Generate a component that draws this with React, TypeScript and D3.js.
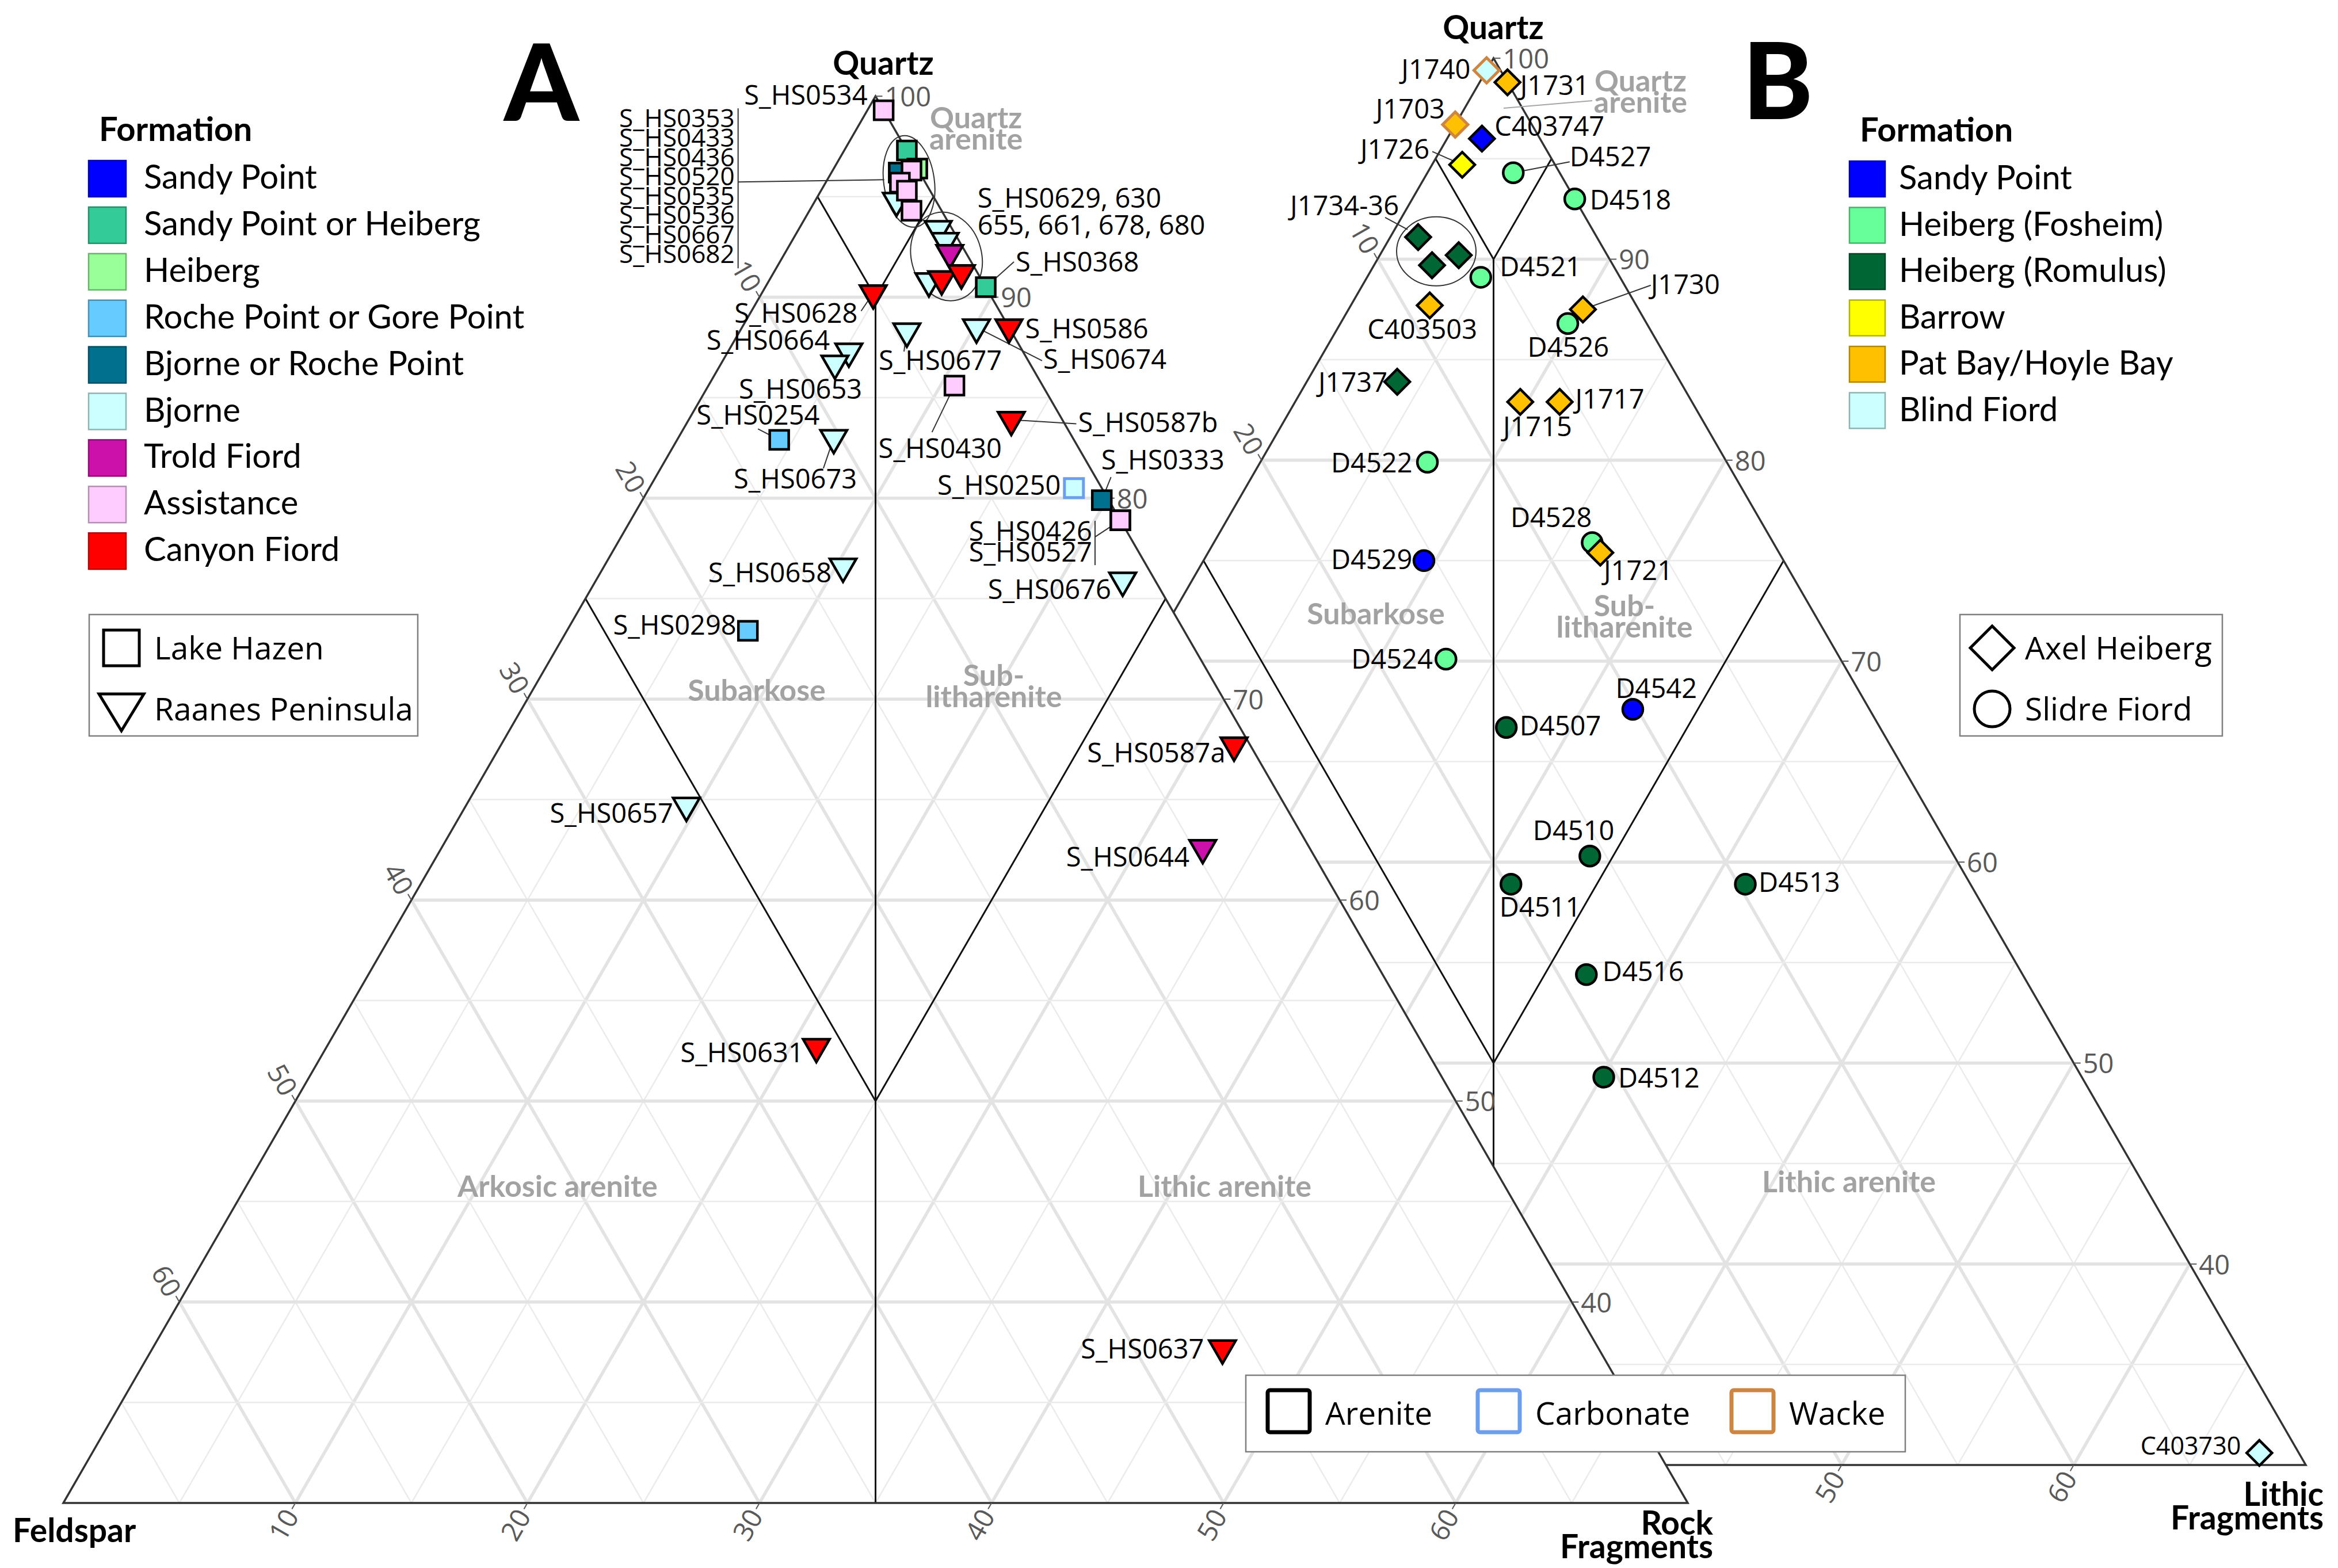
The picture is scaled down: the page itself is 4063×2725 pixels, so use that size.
import React from 'react';
import * as d3 from 'd3';

const W = 4063;
const H = 2725;
const SQ3 = Math.sqrt(3) / 2;

// axis ticks
const gridSteps = d3.range(5, 70, 5);
const quartzTicks = [100, 90, 80, 70, 60, 50, 40];
const sideTicks = [10, 20, 30, 40, 50, 60];

// Folk-style field boundaries as [Q, F, RF] end points
const boundaries: number[][][] = [
  [[95, 5, 0], [90, 5, 5]],
  [[95, 0, 5], [90, 5, 5]],
  [[90, 5, 5], [30, 35, 35]],
  [[75, 25, 0], [50, 25, 25]],
  [[75, 0, 25], [50, 25, 25]],
];

const formationsA = [
  'Sandy Point', 'Sandy Point or Heiberg', 'Heiberg', 'Roche Point or Gore Point',
  'Bjorne or Roche Point', 'Bjorne', 'Trold Fiord', 'Assistance', 'Canyon Fiord',
];
const formationsB = [
  'Sandy Point', 'Heiberg (Fosheim)', 'Heiberg (Romulus)', 'Barrow', 'Pat Bay/Hoyle Bay', 'Blind Fiord',
];
const lithologies = ['Arenite', 'Carbonate', 'Wacke'];
const localitiesA = ['Lake Hazen', 'Raanes Peninsula'];
const localitiesB = ['Axel Heiberg', 'Slidre Fiord'];

// [sample, Q, F, RF, formation, locality, lithology]
const samplesA: [string, number, number, number, string, string, string][] = [
  ['S_HS0534', 99.3, 0, 0.7, 'Assistance', 'Lake Hazen', 'Arenite'],
  ['S_HS0667', 94.8, 1.7, 3.5, 'Bjorne', 'Raanes Peninsula', 'Arenite'],
  ['S_HS0353', 97.3, 0, 2.7, 'Sandy Point or Heiberg', 'Lake Hazen', 'Arenite'],
  ['S_HS0433', 96.4, 0, 3.6, 'Heiberg', 'Lake Hazen', 'Arenite'],
  ['S_HS0520', 96.2, 0.9, 2.9, 'Bjorne or Roche Point', 'Lake Hazen', 'Arenite'],
  ['S_HS0436', 96.3, 0.3, 3.4, 'Assistance', 'Lake Hazen', 'Arenite'],
  ['S_HS0535', 95.7, 1.1, 3.2, 'Assistance', 'Lake Hazen', 'Arenite'],
  ['S_HS0536', 95.3, 1.0, 3.7, 'Assistance', 'Lake Hazen', 'Arenite'],
  ['S_HS0682', 94.3, 1.3, 4.4, 'Assistance', 'Lake Hazen', 'Arenite'],
  ['S_HS0655', 93.4, 0.6, 6.0, 'Bjorne', 'Raanes Peninsula', 'Arenite'],
  ['S_HS0661', 92.8, 0.6, 6.6, 'Bjorne', 'Raanes Peninsula', 'Arenite'],
  ['S_HS0678', 92.2, 0.7, 7.1, 'Trold Fiord', 'Raanes Peninsula', 'Arenite'],
  ['S_HS0680', 90.8, 2.3, 6.9, 'Bjorne', 'Raanes Peninsula', 'Arenite'],
  ['S_HS0630', 90.9, 1.7, 7.4, 'Canyon Fiord', 'Raanes Peninsula', 'Arenite'],
  ['S_HS0629', 91.2, 0.7, 8.1, 'Canyon Fiord', 'Raanes Peninsula', 'Arenite'],
  ['S_HS0368', 90.5, 0, 9.5, 'Sandy Point or Heiberg', 'Lake Hazen', 'Arenite'],
  ['S_HS0628', 90.2, 5.0, 4.8, 'Canyon Fiord', 'Raanes Peninsula', 'Arenite'],
  ['S_HS0586', 88.5, 0, 11.5, 'Canyon Fiord', 'Raanes Peninsula', 'Arenite'],
  ['S_HS0674', 88.5, 1.4, 10.1, 'Bjorne', 'Raanes Peninsula', 'Arenite'],
  ['S_HS0677', 88.3, 4.5, 7.2, 'Bjorne', 'Raanes Peninsula', 'Arenite'],
  ['S_HS0664', 87.3, 7.5, 5.2, 'Bjorne', 'Raanes Peninsula', 'Arenite'],
  ['S_HS0653', 86.7, 8.4, 4.9, 'Bjorne', 'Raanes Peninsula', 'Arenite'],
  ['S_HS0430', 85.6, 3.8, 10.6, 'Assistance', 'Lake Hazen', 'Arenite'],
  ['S_HS0587b', 83.9, 2.2, 13.9, 'Canyon Fiord', 'Raanes Peninsula', 'Arenite'],
  ['S_HS0254', 82.9, 12.7, 4.4, 'Roche Point or Gore Point', 'Lake Hazen', 'Arenite'],
  ['S_HS0673', 83.0, 10.3, 6.7, 'Bjorne', 'Raanes Peninsula', 'Arenite'],
  ['S_HS0250', 80.5, 1.2, 18.3, 'Bjorne', 'Lake Hazen', 'Carbonate'],
  ['S_HS0333', 79.9, 0.3, 19.8, 'Bjorne or Roche Point', 'Lake Hazen', 'Arenite'],
  ['S_HS0527', 78.9, 0, 21.1, 'Assistance', 'Lake Hazen', 'Arenite'],
  ['S_HS0426', 78.9, 0, 21.1, 'Assistance', 'Lake Hazen', 'Arenite'],
  ['S_HS0658', 76.6, 13.1, 10.3, 'Bjorne', 'Raanes Peninsula', 'Arenite'],
  ['S_HS0676', 75.9, 1.4, 22.7, 'Bjorne', 'Raanes Peninsula', 'Arenite'],
  ['S_HS0298', 73.4, 18.8, 7.8, 'Roche Point or Gore Point', 'Lake Hazen', 'Arenite'],
  ['S_HS0587a', 67.7, 0.7, 31.6, 'Canyon Fiord', 'Raanes Peninsula', 'Arenite'],
  ['S_HS0657', 64.7, 25.8, 9.5, 'Bjorne', 'Raanes Peninsula', 'Arenite'],
  ['S_HS0644', 62.6, 4.6, 32.8, 'Trold Fiord', 'Raanes Peninsula', 'Arenite'],
  ['S_HS0631', 52.7, 26.2, 21.1, 'Canyon Fiord', 'Raanes Peninsula', 'Arenite'],
  ['S_HS0637', 37.7, 16.2, 46.1, 'Canyon Fiord', 'Raanes Peninsula', 'Arenite'],
];

// [sample, Q, F, LF, formation, locality, lithology]
const samplesB: [string, number, number, number, string, string, string][] = [
  ['J1740', 99.4, 0.6, 0, 'Blind Fiord', 'Axel Heiberg', 'Wacke'],
  ['J1731', 98.8, 0, 1.2, 'Pat Bay/Hoyle Bay', 'Axel Heiberg', 'Arenite'],
  ['J1703', 96.7, 3.3, 0, 'Pat Bay/Hoyle Bay', 'Axel Heiberg', 'Wacke'],
  ['C403747', 96.0, 2.5, 1.5, 'Sandy Point', 'Axel Heiberg', 'Arenite'],
  ['J1726', 94.7, 4.0, 1.3, 'Barrow', 'Axel Heiberg', 'Arenite'],
  ['D4527', 94.3, 2.0, 3.7, 'Heiberg (Fosheim)', 'Slidre Fiord', 'Arenite'],
  ['D4518', 93.0, 0, 7.0, 'Heiberg (Fosheim)', 'Slidre Fiord', 'Arenite'],
  ['J1734', 91.1, 7.7, 1.2, 'Heiberg (Romulus)', 'Axel Heiberg', 'Arenite'],
  ['J1735', 89.7, 7.8, 2.5, 'Heiberg (Romulus)', 'Axel Heiberg', 'Arenite'],
  ['J1736', 90.2, 6.4, 3.4, 'Heiberg (Romulus)', 'Axel Heiberg', 'Arenite'],
  ['D4521', 89.1, 6.0, 4.9, 'Heiberg (Fosheim)', 'Slidre Fiord', 'Arenite'],
  ['C403503', 87.7, 8.9, 3.4, 'Pat Bay/Hoyle Bay', 'Axel Heiberg', 'Arenite'],
  ['D4526', 86.8, 3.4, 9.8, 'Heiberg (Fosheim)', 'Slidre Fiord', 'Arenite'],
  ['J1730', 87.5, 2.4, 10.1, 'Pat Bay/Hoyle Bay', 'Axel Heiberg', 'Arenite'],
  ['J1737', 83.9, 12.2, 3.9, 'Heiberg (Romulus)', 'Axel Heiberg', 'Arenite'],
  ['J1715', 82.9, 7.4, 9.7, 'Pat Bay/Hoyle Bay', 'Axel Heiberg', 'Arenite'],
  ['J1717', 82.9, 5.7, 11.4, 'Pat Bay/Hoyle Bay', 'Axel Heiberg', 'Arenite'],
  ['D4522', 79.9, 12.9, 7.2, 'Heiberg (Fosheim)', 'Slidre Fiord', 'Arenite'],
  ['D4528', 75.9, 7.8, 16.3, 'Heiberg (Fosheim)', 'Slidre Fiord', 'Arenite'],
  ['J1721', 75.4, 7.7, 16.9, 'Pat Bay/Hoyle Bay', 'Axel Heiberg', 'Arenite'],
  ['D4529', 75.0, 15.5, 9.5, 'Sandy Point', 'Slidre Fiord', 'Arenite'],
  ['D4524', 70.1, 17.0, 12.9, 'Heiberg (Fosheim)', 'Slidre Fiord', 'Arenite'],
  ['D4542', 67.6, 10.2, 22.2, 'Sandy Point', 'Slidre Fiord', 'Arenite'],
  ['D4507', 66.7, 16.1, 17.2, 'Heiberg (Romulus)', 'Slidre Fiord', 'Arenite'],
  ['D4510', 60.3, 15.7, 24.0, 'Heiberg (Romulus)', 'Slidre Fiord', 'Arenite'],
  ['D4511', 58.9, 19.8, 21.3, 'Heiberg (Romulus)', 'Slidre Fiord', 'Arenite'],
  ['D4513', 58.9, 9.7, 31.4, 'Heiberg (Romulus)', 'Slidre Fiord', 'Arenite'],
  ['D4516', 54.4, 18.8, 26.8, 'Heiberg (Romulus)', 'Slidre Fiord', 'Arenite'],
  ['D4512', 49.3, 20.6, 30.1, 'Heiberg (Romulus)', 'Slidre Fiord', 'Arenite'],
  ['C403730', 30.6, 1.7, 67.7, 'Blind Fiord', 'Axel Heiberg', 'Arenite'],
];

const clusterA1 = ['S_HS0353', 'S_HS0433', 'S_HS0436', 'S_HS0520', 'S_HS0535', 'S_HS0536', 'S_HS0667', 'S_HS0682'];
const clusterA2 = ['S_HS0629', 'S_HS0630', 'S_HS0655', 'S_HS0661', 'S_HS0678', 'S_HS0680'];
const clusterB1 = ['J1734', 'J1735', 'J1736'];

const fillOf: Record<string, string> = {
  'Sandy Point': '#0000ff',
  'Sandy Point or Heiberg': '#33cc99',
  Heiberg: '#99ff99',
  'Roche Point or Gore Point': '#66ccff',
  'Bjorne or Roche Point': '#00708f',
  Bjorne: '#ccffff',
  'Trold Fiord': '#cc11aa',
  Assistance: '#ffccff',
  'Canyon Fiord': '#ff0000',
  'Heiberg (Fosheim)': '#66ff99',
  'Heiberg (Romulus)': '#006633',
  Barrow: '#ffff00',
  'Pat Bay/Hoyle Bay': '#ffc000',
  'Blind Fiord': '#ccffff',
};
const strokeOf: Record<string, string> = { Arenite: '#000000', Carbonate: '#6d9eeb', Wacke: '#cd853f' };
const shapeOf: Record<string, string> = {
  'Lake Hazen': 'square', 'Raanes Peninsula': 'triangle', 'Axel Heiberg': 'diamond', 'Slidre Fiord': 'circle',
};

// label placement: [dx, dy, anchor, leaderDx, leaderDy]
const placeA: Record<string, any[]> = {
  S_HS0534: [-28, -10, 'end'],
  S_HS0368: [52, -27, 'start', 49, -44],
  S_HS0628: [-27, 52, 'end', -21, 31],
  S_HS0586: [28, 19, 'start'],
  S_HS0674: [116, 72, 'start', 114, 58],
  S_HS0677: [-49, 67, 'start', -5, 35],
  S_HS0664: [-33, -3, 'end'],
  S_HS0653: [-167, 61, 'start'],
  S_HS0254: [-144, -26, 'start', -37, -19],
  S_HS0673: [-174, 88, 'start', -18, 53],
  S_HS0430: [-132, 126, 'start', -39, 81],
  S_HS0587b: [116, 21, 'start', 113, 7],
  S_HS0333: [-1, -53, 'start', 16, -40],
  S_HS0250: [-23, 12, 'end'],
  S_HS0658: [-20, 28, 'end'],
  S_HS0676: [-20, 32, 'end'],
  S_HS0298: [-20, 7, 'end'],
  S_HS0657: [-23, 30, 'end'],
  S_HS0631: [-22, 27, 'end'],
  S_HS0587a: [-15, 30, 'end'],
  S_HS0644: [-23, 33, 'end'],
  S_HS0637: [-32, 18, 'end'],
};
const placeB: Record<string, any[]> = {
  J1740: [-28, 15, 'end'],
  J1731: [22, 22, 'start'],
  J1703: [-18, -10, 'end'],
  C403747: [22, -5, 'start'],
  J1726: [-57, -10, 'end', -52, -23],
  D4527: [98, -11, 'start', 98, -19],
  D4518: [26, 18, 'start'],
  D4521: [33, -2, 'start'],
  C403503: [-13, 58, 'middle'],
  J1730: [118, -27, 'start', 118, -42],
  D4526: [-70, 58, 'start'],
  J1737: [-17, 17, 'end'],
  J1715: [-30, 60, 'start'],
  J1717: [27, 12, 'start'],
  D4522: [-26, 18, 'end'],
  D4528: [-142, -27, 'start'],
  J1721: [6, 48, 'start'],
  D4529: [-20, 15, 'end'],
  D4524: [-23, 17, 'end'],
  D4542: [-30, -20, 'start'],
  D4507: [23, 14, 'start'],
  D4510: [-99, -28, 'start'],
  D4511: [-20, 56, 'start'],
  D4513: [23, 13, 'start'],
  D4516: [28, 11, 'start'],
  D4512: [25, 18, 'start'],
  C403730: [-32, 3, 'end'],
};

// field names: [lines, Q, RF - F]
const zonesA: [string[], number, number][] = [
  [['Quartz', 'arenite'], 98.4, 8.66],
  [['Subarkose'], 69.9, -10.24],
  [['Sub-', 'litharenite'], 70.66, 10.19],
  [['Arkosic arenite'], 45.23, -27.4],
  [['Lithic arenite'], 45.23, 30.08],
];
const zonesB: [string[], number, number][] = [
  [['Quartz', 'arenite'], 98.35, 12.67],
  [['Subarkose'], 71.84, -10.14],
  [['Sub-', 'litharenite'], 72.24, 11.28],
  [['Lithic arenite'], 43.58, 30.63],
];

type Proj = ((q: number, f: number, r: number) => [number, number]) & { x: any; y: any };

function makeProj(left: number, right: number, base: number): Proj {
  const side = right - left;
  const x = d3.scaleLinear().domain([-70, 70]).range([left, right]);
  const y = d3.scaleLinear().domain([30, 100]).range([base, base - side * SQ3]);
  const p: any = (q: number, f: number, r: number) => [x(r - f), y(q)];
  p.x = x;
  p.y = y;
  return p;
}

const projA = makeProj(110, 2933, 2612);
const projB = makeProj(1184, 4007, 2546);

function Base({ P }: { P: Proj }) {
  const corners = [P(100, 0, 0), P(30, 70, 0), P(30, 0, 70)];
  const pts = corners.map((c) => c.join(',')).join(' ');
  const grid: any[] = [];
  gridSteps.forEach((v) => {
    const major = v % 10 === 0;
    const segs = [
      [P(100 - v, v, 0), P(100 - v, 0, v)],
      [P(100 - v, v, 0), P(30, v, 70 - v)],
      [P(100 - v, 0, v), P(30, 70 - v, v)],
    ];
    segs.forEach(([a, b], i) =>
      grid.push(
        <line key={`${v}-${i}`} x1={a[0]} y1={a[1]} x2={b[0]} y2={b[1]}
          stroke={major ? '#e3e3e3' : '#ebebeb'} strokeWidth={major ? 5.5 : 2.5} />
      )
    );
  });
  const tickFont = { fontSize: 47, fill: '#595959', fontFamily: "'Open Sans', sans-serif" };
  return (
    <g>
      <polygon points={pts} fill="#ffffff" />
      {grid}
      {boundaries.map((seg, i) => {
        const a = P(seg[0][0], seg[0][1], seg[0][2]);
        const b = P(seg[1][0], seg[1][1], seg[1][2]);
        return <line key={i} x1={a[0]} y1={a[1]} x2={b[0]} y2={b[1]} stroke="#111" strokeWidth={3} />;
      })}
      <polygon points={pts} fill="none" stroke="#333" strokeWidth={3.5} />
      {quartzTicks.map((q) => {
        const [x, y] = P(q, 0, 100 - q);
        return (
          <g key={`q${q}`}>
            <line x1={x} y1={y} x2={x + 12} y2={y} stroke="#595959" strokeWidth={2} />
            <text x={x + 16} y={y} dominantBaseline="central" {...tickFont}>{q}</text>
          </g>
        );
      })}
      {sideTicks.map((f) => {
        const [x, y] = P(100 - f, f, 0);
        return (
          <g key={`f${f}`}>
            <line x1={x} y1={y} x2={x - 6} y2={y - 12 * SQ3} stroke="#595959" strokeWidth={2} />
            <text transform={`translate(${x - 8},${y - 16 * SQ3}) rotate(60)`} textAnchor="end"
              dominantBaseline="central" {...tickFont}>{f}</text>
          </g>
        );
      })}
      {sideTicks.map((r) => {
        const [x, y] = P(30, 70 - r, r);
        return (
          <g key={`r${r}`}>
            <line x1={x} y1={y} x2={x - 6} y2={y + 12 * SQ3} stroke="#595959" strokeWidth={2} />
            <text transform={`translate(${x - 8},${y + 16 * SQ3}) rotate(-60)`} textAnchor="end"
              dominantBaseline="central" {...tickFont}>{r}</text>
          </g>
        );
      })}
    </g>
  );
}

function Zones({ P, zones }: { P: Proj; zones: [string[], number, number][] }) {
  return (
    <g fontFamily="Lato, sans-serif" fontWeight={700} fontSize={52} fill="#a2a2a2" textAnchor="middle">
      {zones.map(([lines, q, d], i) => (
        <text key={i} x={P.x(d)} y={P.y(q)}>
          {lines.map((l, j) => (
            <tspan key={j} x={P.x(d)} dy={j === 0 ? 0 : 37}>{l}</tspan>
          ))}
        </text>
      ))}
    </g>
  );
}

function Marker({ shape, x, y, fill, stroke }: any) {
  const sw = stroke === '#000000' ? 4.5 : 5;
  if (shape === 'square')
    return <rect x={x - 16.5} y={y - 16.5} width={33} height={33} fill={fill} stroke={stroke} strokeWidth={sw} />;
  if (shape === 'triangle')
    return <path d={`M${x - 23},${y - 13.3}L${x + 23},${y - 13.3}L${x},${y + 26.6}Z`} fill={fill} stroke={stroke} strokeWidth={sw} strokeLinejoin="miter" />;
  if (shape === 'diamond')
    return <path d={`M${x},${y - 22}L${x + 22},${y}L${x},${y + 22}L${x - 22},${y}Z`} fill={fill} stroke={stroke} strokeWidth={sw} />;
  return <circle cx={x} cy={y} r={17.5} fill={fill} stroke={stroke} strokeWidth={sw} />;
}

function Samples({ P, samples, place }: any) {
  const pos = samples.map((s: any) => P(s[1], s[2], s[3]));
  return (
    <g>
      {samples.map((s: any, i: number) => {
        const p = place[s[0]];
        if (!p || p[3] === undefined) return null;
        const [x, y] = pos[i];
        return <line key={`l${i}`} x1={x} y1={y} x2={x + p[3]} y2={y + p[4]} stroke="#333" strokeWidth={2} />;
      })}
      {samples.map((s: any, i: number) => (
        <Marker key={`m${i}`} shape={shapeOf[s[5]]} x={pos[i][0]} y={pos[i][1]} fill={fillOf[s[4]]} stroke={strokeOf[s[6]]} />
      ))}
      {samples.map((s: any, i: number) => {
        const p = place[s[0]];
        if (!p) return null;
        const [x, y] = pos[i];
        return (
          <text key={`t${i}`} x={x + p[0]} y={y + p[1]} textAnchor={p[2]}
            fontSize={s[0] === 'C403730' ? 43 : 47}>{s[0]}</text>
        );
      })}
    </g>
  );
}

function centreOf(P: Proj, samples: any[], names: string[]) {
  const pts = samples.filter((s) => names.includes(s[0])).map((s) => P(s[1], s[2], s[3]));
  return [d3.mean(pts, (p) => p[0]) as number, d3.mean(pts, (p) => p[1]) as number];
}

function FormationLegend({ x, y, items, sw, sh, step, tx }: any) {
  return (
    <g fontFamily="Lato, sans-serif">
      <text x={x + 18} y={y - 34} fontSize={58} fontWeight={700}>Formation</text>
      {items.map((f: string, i: number) => (
        <g key={f}>
          <rect x={x} y={y + i * step} width={sw} height={sh} fill={fillOf[f]}
            stroke={d3.color(fillOf[f])!.darker(1).formatHex()} strokeWidth={2.5} />
          <text x={tx} y={y + i * step + 49} fontSize={58}>{f}</text>
        </g>
      ))}
    </g>
  );
}

function LocalityLegend({ x, y, w, h, items, tdx }: any) {
  return (
    <g>
      <rect x={x} y={y} width={w} height={h} fill="#fff" stroke="#7f7f7f" strokeWidth={2.5} />
      {items.map((loc: string, i: number) => {
        const cx = x + 56;
        const cy = y + 58 + i * 106;
        const shape = shapeOf[loc];
        let icon;
        if (shape === 'square') icon = <rect x={cx - 31} y={cy - 31} width={62} height={62} fill="none" stroke="#000" strokeWidth={5} />;
        else if (shape === 'triangle') icon = <path d={`M${cx - 39},${cy - 26}L${cx + 39},${cy - 26}L${cx},${cy + 38}Z`} fill="none" stroke="#000" strokeWidth={5} />;
        else if (shape === 'diamond') icon = <path d={`M${cx},${cy - 38}L${cx + 38},${cy}L${cx},${cy + 38}L${cx - 38},${cy}Z`} fill="none" stroke="#000" strokeWidth={5} />;
        else icon = <circle cx={cx} cy={cy} r={31} fill="none" stroke="#000" strokeWidth={5} />;
        return (
          <g key={loc}>
            {icon}
            <text x={x + tdx} y={cy + 20} fontSize={55}>{loc}</text>
          </g>
        );
      })}
    </g>
  );
}

export default function App() {
  const cA1 = centreOf(projA, samplesA, clusterA1);
  const cA2 = centreOf(projA, samplesA, clusterA2);
  const cB1 = centreOf(projB, samplesB, clusterB1);
  const e1 = [cA1[0] + 5, cA1[1] + 1];
  const e2 = [cA2[0] + 4, cA2[1] - 5];
  const e3 = [cB1[0], cB1[1] - 2];
  const pair = projA(78.9, 0, 21.1);

  return (
    <svg width={W} height={H} viewBox={`0 0 ${W} ${H}`}
      style={{ position: 'absolute', left: 0, top: 0, background: '#fff' }}
      fontFamily="'Open Sans', sans-serif">
      <rect width={W} height={H} fill="#fff" />

      {/* diagram B (underneath) */}
      <Base P={projB} />
      <Zones P={projB} zones={zonesB} />
      <line x1={2613} y1={188} x2={2767} y2={175} stroke="#a6a6a6" strokeWidth={2} />
      <ellipse cx={e3[0]} cy={e3[1]} rx={69} ry={60} fill="none" stroke="#333" strokeWidth={2} />
      <line x1={e3[0] - 89} y1={e3[1] - 59} x2={e3[0] - 50} y2={e3[1] - 38} stroke="#333" strokeWidth={2} />
      <text x={e3[0] - 65} y={e3[1] - 63} textAnchor="end" fontSize={47}>J1734-36</text>
      <Samples P={projB} samples={samplesB} place={placeB} />

      {/* diagram A (on top) */}
      <Base P={projA} />
      <Zones P={projA} zones={zonesA} />
      <ellipse cx={e1[0]} cy={e1[1]} rx={44} ry={80} transform={`rotate(-8 ${e1[0]} ${e1[1]})`} fill="none" stroke="#333" strokeWidth={2} />
      <ellipse cx={e2[0]} cy={e2[1]} rx={61} ry={78} transform={`rotate(-15 ${e2[0]} ${e2[1]})`} fill="none" stroke="#333" strokeWidth={2} />
      <line x1={e1[0] - 297} y1={e1[1] - 127} x2={e1[0] - 297} y2={e1[1] + 151} stroke="#333" strokeWidth={2} />
      <line x1={e1[0] - 297} y1={e1[1] + 1} x2={e1[0] - 43} y2={e1[1] - 3} stroke="#333" strokeWidth={2} />
      {clusterA1.map((n, i) => (
        <text key={n} x={e1[0] - 303} y={e1[1] - 94 + i * 33.6} textAnchor="end" fontSize={44}>{n}</text>
      ))}
      <text x={e2[0] + 54} y={e2[1] - 85} fontSize={47}>S_HS0629, 630</text>
      <text x={e2[0] + 54} y={e2[1] - 38} fontSize={47}>655, 661, 678, 680</text>
      <line x1={pair[0] - 44} y1={pair[1] + 1} x2={pair[0] - 44} y2={pair[1] + 78} stroke="#333" strokeWidth={2} />
      <line x1={pair[0] - 44} y1={pair[1] + 29} x2={pair[0]} y2={pair[1]} stroke="#333" strokeWidth={2} />
      <text x={pair[0] - 49} y={pair[1] + 36} textAnchor="end" fontSize={47}>S_HS0426</text>
      <text x={pair[0] - 49} y={pair[1] + 72} textAnchor="end" fontSize={47}>S_HS0527</text>
      <Samples P={projA} samples={samplesA} place={placeA} />

      {/* titles */}
      <g fontFamily="Lato, sans-serif" fontWeight={700} fontSize={57}>
        <text x={1535} y={130} textAnchor="middle">Quartz</text>
        <text x={2595} y={68} textAnchor="middle">Quartz</text>
        <text x={22} y={2680}>Feldspar</text>
        <text x={2977} y={2667} textAnchor="end">Rock</text>
        <text x={2977} y={2708} textAnchor="end">Fragments</text>
        <text x={4038} y={2617} textAnchor="end">Lithic</text>
        <text x={4038} y={2658} textAnchor="end">Fragments</text>
      </g>
      <g fontFamily="Lato, sans-serif" fontWeight={900} fontSize={185}>
        <text x={876} y={210}>A</text>
        <text x={3028} y={207}>B</text>
      </g>

      {/* legends */}
      <FormationLegend x={154} y={279} items={formationsA} sw={65} sh={63} step={80.9} tx={250} />
      <FormationLegend x={3214} y={280} items={formationsB} sw={62} sh={62} step={80.5} tx={3300} />
      <LocalityLegend x={155} y={1068} w={571} h={211} items={localitiesA} tdx={113} />
      <LocalityLegend x={3406} y={1068} w={456} h={211} items={localitiesB} tdx={113} />
      <g>
        <rect x={2165} y={2390} width={1146} height={133} fill="#fff" stroke="#7f7f7f" strokeWidth={2.5} />
        {lithologies.map((l, i) => {
          const sx = [2203, 2568, 3009][i];
          return (
            <g key={l}>
              <rect x={sx} y={2416} width={73} height={73} rx={4} fill="#fff" stroke={strokeOf[l]} strokeWidth={7} />
              <text x={sx + 100} y={2476} fontSize={55}>{l}</text>
            </g>
          );
        })}
      </g>
    </svg>
  );
}
